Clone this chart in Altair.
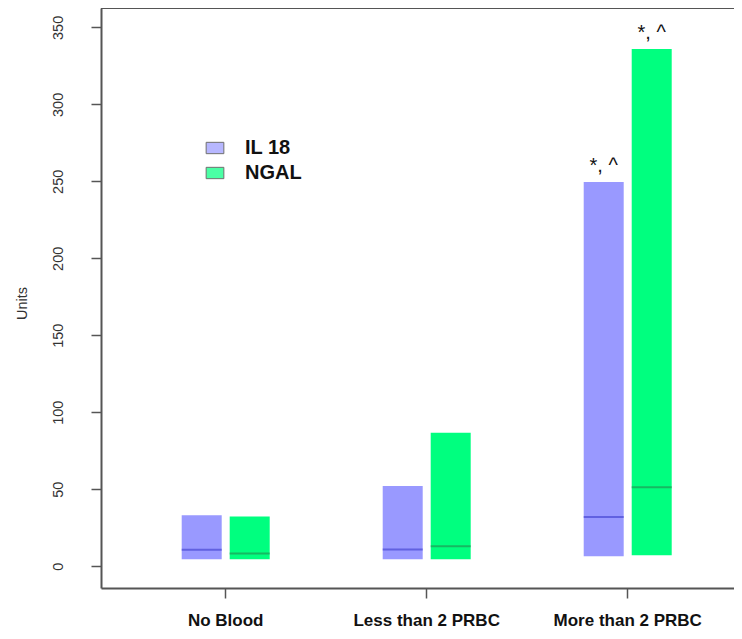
import altair as alt
import pandas as pd

categories = ["No Blood", "Less than 2 PRBC", "More than 2 PRBC"]
series = ["IL 18", "NGAL"]
colors = ["#9999ff", "#00ff7f"]
median_colors = ["#4848d4", "#1f9a55"]

il18_low = [4.4, 4.4, 6.5]
il18_high = [33.0, 52.0, 249.5]
il18_median = [10.6, 10.8, 32.0]

ngal_low = [4.4, 4.4, 7.1]
ngal_high = [32.3, 86.6, 336.0]
ngal_median = [8.2, 13.0, 51.3]

il18_note = ["", "", "*, ^"]
ngal_note = ["", "", "*, ^"]

y_ticks = [0, 50, 100, 150, 200, 250, 300, 350]

rows = []
for i, c in enumerate(categories):
    rows.append(dict(cat=c, series=series[0], low=il18_low[i], high=il18_high[i],
                     med=il18_median[i], note=il18_note[i], medcolor=median_colors[0]))
    rows.append(dict(cat=c, series=series[1], low=ngal_low[i], high=ngal_high[i],
                     med=ngal_median[i], note=ngal_note[i], medcolor=median_colors[1]))
df = pd.DataFrame(rows)

W, H = 633, 580
AXIS_COL = "#555555"

x_enc = alt.X(
    "cat:N", sort=categories, title=None,
    scale=alt.Scale(paddingInner=0, paddingOuter=0.0746, align=0.807),
    axis=alt.Axis(labelAngle=0, labelFont="Liberation Sans Narrow, Arial Narrow, Liberation Sans",
                  labelFontWeight="bold", labelFontSize=17, labelColor="#111",
                  labelPadding=22, labelBaseline="middle",
                  tickSize=10, tickColor=AXIS_COL, tickWidth=1.5,
                  domainColor=AXIS_COL, domainWidth=2, grid=False),
)
xo_enc = alt.XOffset("series:N", sort=series,
                     scale=alt.Scale(range=[56.5, 144.5], paddingInner=0.1667, paddingOuter=0))
y_scale = alt.Scale(domain=[-14.2, 362.6], nice=False, zero=False)
y_enc = alt.Y(
    "low:Q", scale=y_scale, title="Units",
    axis=alt.Axis(values=y_ticks, labelAngle=270, labelAlign="center", labelBaseline="bottom",
                  labelFont="Liberation Sans", labelFontSize=14.5, labelColor="#333",
                  labelPadding=26, tickSize=10, tickColor=AXIS_COL, tickWidth=1.5,
                  domainColor=AXIS_COL, domainWidth=2, grid=False,
                  titleFont="Liberation Sans", titleFontSize=14.5, titleFontWeight="normal",
                  titleColor="#333", titleAngle=270, titleX=-79, titleY=295,
                  titleAlign="center", titleBaseline="middle"),
)

base = alt.Chart(df)

bars = base.mark_bar(opacity=1).encode(
    x=x_enc, xOffset=xo_enc, y=y_enc, y2="high:Q",
    color=alt.Color("series:N", sort=series, scale=alt.Scale(domain=series, range=colors),
                    legend=alt.Legend(orient="none", legendX=104, legendY=130, title=None,
                                      symbolType="M-1,-0.64H1V0.64H-1Z", symbolSize=313,
                                      symbolStrokeColor="#333", symbolStrokeWidth=1,
                                      symbolOpacity=1,
                                      labelFont="Liberation Sans", labelFontWeight="bold",
                                      labelFontSize=20, labelColor="#111", labelOffset=20,
                                      rowPadding=5, padding=0)),
)

medians = base.mark_tick(orient="horizontal", thickness=2, size=40).encode(
    x=x_enc, xOffset=xo_enc,
    y=alt.Y("med:Q", scale=y_scale),
    color=alt.Color("medcolor:N", scale=None),
)

notes = base.mark_text(fontSize=20, font="Liberation Sans", color="#111",
                       baseline="alphabetic", dy=-10).encode(
    x=x_enc, xOffset=xo_enc,
    y=alt.Y("high:Q", scale=y_scale),
    text="note:N",
)

top_line = alt.Chart(pd.DataFrame({"k": [0]})).mark_rule(color=AXIS_COL, strokeWidth=2).encode(
    x=alt.value(0), x2=alt.value(W), y=alt.value(0)
)

chart = alt.layer(bars, medians, notes, top_line).properties(
    width=W, height=H,
    padding={"left": 93, "top": 0, "right": 0, "bottom": 43},
    autosize=alt.AutoSizeParams(type="none"),
).configure_view(stroke=None)

chart.save("out.html", embed_options={"renderer": "svg", "actions": False})
